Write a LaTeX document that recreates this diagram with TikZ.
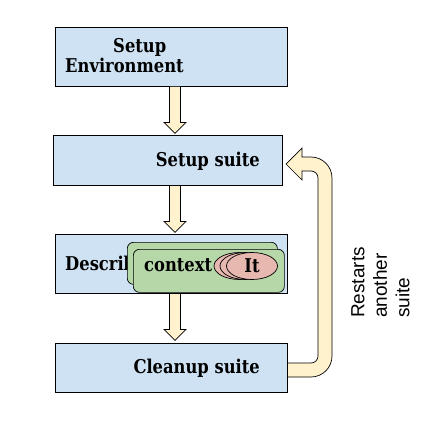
\documentclass[tikz,border=0pt]{standalone}
\usepackage{fontspec}
\setmainfont{DejaVu Serif}[FakeStretch=0.86]
\newfontfamily\sansf{Liberation Sans}
\usetikzlibrary{shapes.geometric,calc}
\definecolor{boxblue}{RGB}{207,226,243}
\definecolor{ctxgreen}{RGB}{182,215,168}
\definecolor{itpink}{RGB}{230,184,175}
\definecolor{arrowyellow}{RGB}{255,242,204}
\tikzset{
  box/.style={draw=black, fill=boxblue, line width=0.8pt, inner sep=0pt},
  txt/.style={font=\fontsize{19}{22}\selectfont\bfseries, inner sep=0pt},
  blk/.style={draw=black, fill=arrowyellow, line width=0.7pt, line join=miter},
  ctx/.style={draw=black, fill=ctxgreen, line width=0.7pt, rounded corners=6pt},
  itell/.style={ellipse, draw=black, fill=itpink, line width=0.7pt, minimum width=51pt, minimum height=27pt, inner sep=0pt},
}
\newcommand{\blkdown}[1]{\draw[blk] (#1) -- ++(11,0) -- ++(0,36) -- ++(5.5,0) -- ++(-11,11) -- ++(-11,-11) -- ++(5.5,0) -- cycle;}
\begin{document}
\begin{tikzpicture}[x=1pt,y=-1pt]
\useasboundingbox (0,0) rectangle (425,425);
% boxes
\node[box, minimum width=232pt, minimum height=59pt] (se) at (171,56.5) {};
\node[box, minimum width=229pt, minimum height=50pt] (ss) at (167.5,160) {};
\node[box, minimum width=232pt, minimum height=59pt] (ds) at (171,263.5) {};
\node[box, minimum width=232pt, minimum height=49pt] (cu) at (171,367.5) {};
% texts
\node[txt, anchor=base west] (se1) at (113,53) {Setup};
\node[txt, anchor=base west] (se2) at (65,73) {Environment};
\node[txt, anchor=base east] (sst) at (260,166.5) {Setup suite};
\node[txt, anchor=base west] (dst) at (65,270.5) {Describe};
\node[txt, anchor=base east] (cut) at (260,373) {Cleanup suite};
% context boxes
\node[ctx, minimum width=150pt, minimum height=42pt, anchor=north west] (ctxb) at (127,242) {};
\node[ctx, minimum width=151pt, minimum height=43pt, anchor=north west] (ctxf) at (133,249) {};
\node[txt, anchor=base west] (ctxt) at (144,271) {context};
% it ellipses
\node[itell] (it1) at (239.5,266) {};
\node[itell] (it2) at (245.5,266) {};
\node[itell, txt] (it3) at (252,266) {It};
% down arrows
\blkdown{169.5,0 |- se.south}
\blkdown{169.5,0 |- ss.south}
\blkdown{169.5,0 |- ds.south}
% return arrow
\draw[blk] (cu.east |- 0,377) -- (311,377) .. controls (322.6,377) and (332,367.6) .. (332,356)
  -- (332,178) .. controls (332,166.4) and (322.6,157) .. (311,157)
  -- (302,157) -- (302,148) -- (286,164) -- (302,180) -- (302,171) -- (311,171)
  .. controls (314.9,171) and (318,174.1) .. (318,178)
  -- (318,356) .. controls (318,359.9) and (314.9,363) .. (311,363) -- (cu.east |- 0,363) -- cycle;
% label
\node[rotate=90, anchor=north west, align=left, inner sep=0pt, font=\sansf\fontsize{19}{22.5}\selectfont] (lbl) at (351,318) {Restarts\\another\\suite};
\end{tikzpicture}
\end{document}
